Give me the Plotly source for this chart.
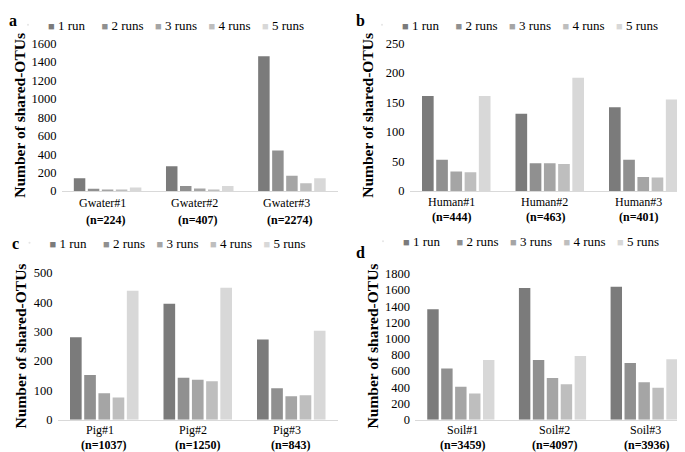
import plotly.graph_objects as go

# ---------------- data ----------------
series_names = ["1 run", "2 runs", "3 runs", "4 runs", "5 runs"]
series_colors = ["#7b7b7b", "#909090", "#a5a5a5", "#bebebe", "#d8d8d8"]

gwater_cats = ["Gwater#1", "Gwater#2", "Gwater#3"]
gwater_n = ["(n=224)", "(n=407)", "(n=2274)"]
gwater_vals = [
    [140, 270, 1460],   # 1 run
    [25, 55, 440],      # 2 runs
    [15, 28, 165],      # 3 runs
    [10, 15, 85],       # 4 runs
    [40, 55, 140],      # 5 runs
]

human_cats = ["Human#1", "Human#2", "Human#3"]
human_n = ["(n=444)", "(n=463)", "(n=401)"]
human_vals = [
    [161, 131, 142],
    [53, 47, 53],
    [33, 47, 24],
    [32, 46, 23],
    [161, 192, 155],
]

pig_cats = ["Pig#1", "Pig#2", "Pig#3"]
pig_n = ["(n=1037)", "(n=1250)", "(n=843)"]
pig_vals = [
    [281, 395, 273],
    [152, 143, 107],
    [90, 136, 80],
    [76, 131, 83],
    [439, 449, 303],
]

soil_cats = ["Soil#1", "Soil#2", "Soil#3"]
soil_n = ["(n=3459)", "(n=4097)", "(n=3936)"]
soil_vals = [
    [1362, 1625, 1641],
    [633, 737, 701],
    [406, 514, 462],
    [323, 438, 394],
    [737, 785, 745],
]

y_ranges = [[0, 1600], [0, 250], [0, 500], [0, 1800]]
y_dticks = [200, 50, 100, 200]
panel_letters = ["a", "b", "c", "d"]
y_title = "Number of shared-OTUs"

# ---------------- layout geometry ----------------
W, H = 685, 452
FONT = "Liberation Serif, Times New Roman, serif"

def px_x(a, b):
    return [a / W, b / W]

def px_y(bottom, top):
    return [1 - bottom / H, 1 - top / H]

x_domains = [px_x(53.5, 330), px_x(401.5, 682), px_x(49.5, 330), px_x(407, 682)]
y_domains = [px_y(181.7, 29.3), px_y(181.7, 29.3), px_y(417.7, 266), px_y(417.7, 267)]

panels = [
    (gwater_cats, gwater_n, gwater_vals),
    (human_cats, human_n, human_vals),
    (pig_cats, pig_n, pig_vals),
    (soil_cats, soil_n, soil_vals),
]

legend_names = ["legend", "legend2", "legend3", "legend4"]
legend_pos = [(0, 10), (354, 10), (1.5, 235), (355, 233.5)]
ytitle_pos = [(12, 104), (360, 104), (12, 342), (364, 342)]
letter_pos = [(5, 6), (352, 6), (7.5, 236), (353, 245)]
cat_line1_y = [194, 192.5, 428.5, 428.5]
cat_line2_y = [212, 208, 443.5, 443.5]
cat_line1_dx = [-5, -5, -4.5, 1.5]
cat_line2_dx = [-2, -4, 0, 2.5]

fig = go.Figure()

for p, (cats, ns, vals) in enumerate(panels):
    ax = "" if p == 0 else str(p + 1)
    for s in range(5):
        fig.add_trace(go.Bar(
            x=cats, y=vals[s], name=series_names[s],
            marker=dict(color=series_colors[s], line=dict(width=0)),
            xaxis="x" + ax, yaxis="y" + ax, showlegend=False,
        ))
    # legend entries (coloured square drawn as text glyph)
    for s in range(5):
        fig.add_trace(go.Scatter(
            x=[None], y=[None], mode="markers",
            name=f'<span style="color:{series_colors[s]};font-size:11px">■</span> {series_names[s]}',
            marker=dict(opacity=0, size=1, color=series_colors[s]),
            xaxis="x" + ax, yaxis="y" + ax, legend=legend_names[p],
        ))
    # spacer entry so that the last label is not clipped
    fig.add_trace(go.Scatter(
        x=[None], y=[None], mode="markers", name=" ",
        marker=dict(opacity=0, size=1),
        xaxis="x" + ax, yaxis="y" + ax, legend=legend_names[p],
    ))
    fig.layout["xaxis" + ax] = dict(
        domain=x_domains[p], anchor="y" + ax, type="category",
        showticklabels=False,
        showline=True, linecolor="#d9d9d9", linewidth=1.3,
        ticks="", showgrid=False, zeroline=False,
    )
    fig.layout["yaxis" + ax] = dict(
        domain=y_domains[p], anchor="x" + ax, range=y_ranges[p], dtick=y_dticks[p],
        showline=False, showgrid=False, zeroline=False, ticks="",
        ticklabelstandoff=4,
        tickfont=dict(family=FONT, size=12.5, color="black"),
    )
    lx, ly = legend_pos[p]
    fig.layout[legend_names[p]] = dict(
        orientation="h", x=lx / W, xanchor="left", y=1 - ly / H, yanchor="middle",
        xref="paper", yref="paper",
        font=dict(family=FONT, size=13, color="black"),
        bgcolor="rgba(0,0,0,0)", borderwidth=0,
        entrywidth=8.5, entrywidthmode="pixels", itemwidth=30,
    )
    # category labels (two lines, second bold)
    for c, n in zip(cats, ns):
        fig.add_annotation(
            text=c, x=c, xref="x" + ax, y=1 - cat_line1_y[p] / H, yref="paper",
            xshift=cat_line1_dx[p], showarrow=False, xanchor="center", yanchor="middle",
            font=dict(family=FONT, size=12, color="black"),
        )
        fig.add_annotation(
            text=f"<b>{n}</b>", x=c, xref="x" + ax, y=1 - cat_line2_y[p] / H, yref="paper",
            xshift=cat_line2_dx[p], showarrow=False, xanchor="center", yanchor="middle",
            font=dict(family=FONT, size=12, color="black"),
        )
    tx, ty = ytitle_pos[p]
    fig.add_annotation(
        text=f"<b>{y_title}</b>", x=tx / W, y=1 - ty / H, xref="paper", yref="paper",
        textangle=-90, showarrow=False, xanchor="center", yanchor="middle",
        font=dict(family=FONT, size=15.5, color="black"),
    )
    gx, gy = letter_pos[p]
    fig.add_annotation(
        text=f"<b>{panel_letters[p]}</b>", x=gx / W, y=1 - gy / H, xref="paper", yref="paper",
        showarrow=False, xanchor="center", yanchor="middle",
        font=dict(family=FONT, size=16, color="black"),
    )

fig.update_layout(
    width=W, height=H, margin=dict(l=0, r=0, t=0, b=0),
    paper_bgcolor="white", plot_bgcolor="white",
    barmode="group", bargap=0.24, bargroupgap=0.18,
    font=dict(family=FONT, color="black"),
)

fig.write_html("out.html")
